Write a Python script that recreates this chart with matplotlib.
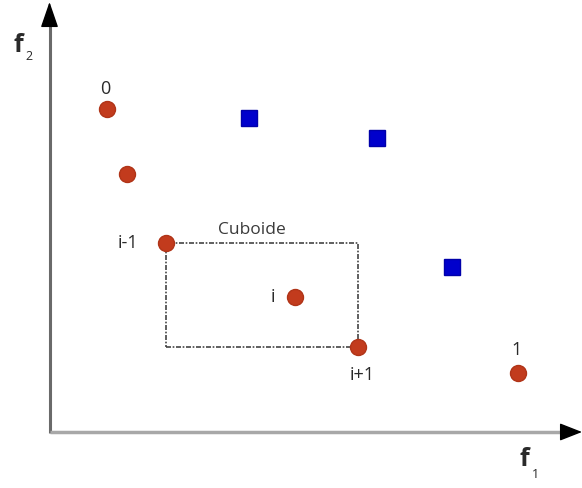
import matplotlib.pyplot as plt
from matplotlib.patches import Rectangle

# front points (f1, f2), plotted in picture units
f1_front = [107, 127, 166, 295, 358, 518]
f2_front = [379, 314, 245, 191, 141, 115]
front_labels = ["0", "", "i-1", "i", "i+1", "1"]

# dominated points
f1_dom = [249, 377, 452]
f2_dom = [370, 350, 221]

plt.rcParams["font.family"] = ["Open Sans", "DejaVu Sans"]

fig = plt.figure(figsize=(5.82, 4.88), dpi=100)
ax = fig.add_axes([0, 0, 1, 1])
ax.set_xlim(0, 582)
ax.set_ylim(0, 488)
ax.axis("off")

# axes with arrowheads
ox, oy = 49.5, 56
ax.plot([ox, ox], [oy - 1, 465], color="#6a6a6a", lw=2.2, solid_capstyle="butt")
ax.plot([ox, 565], [oy, oy], color="#a8a8a8", lw=2.5, solid_capstyle="butt")
ax.annotate("", xy=(ox, 486), xytext=(ox, 462),
            arrowprops=dict(arrowstyle="-|>,head_length=1.6,head_width=0.55",
                            color="black", lw=1, shrinkA=0, shrinkB=0))
ax.annotate("", xy=(582, oy), xytext=(562, oy),
            arrowprops=dict(arrowstyle="-|>,head_length=1.4,head_width=0.55",
                            color="black", lw=1, shrinkA=0, shrinkB=0))

# cuboid around i
i = 3
rect = Rectangle((f1_front[i - 1], f2_front[i + 1]),
                 f1_front[i + 1] - f1_front[i - 1],
                 f2_front[i - 1] - f2_front[i + 1],
                 fill=False, ls=(0, (3, 1, 1, 1)), lw=1.2, ec="#444444")
ax.add_patch(rect)
ax.text((f1_front[i - 1] + f1_front[i + 1]) / 2 - 10, f2_front[i - 1] + 5,
        "Cuboide", fontsize=12.5, color="#3a3a3a", ha="center", va="bottom")

ax.plot(f1_dom, f2_dom, "s", color="#0000cc", ms=11.5, mec="#0000aa", ls="none")
ax.plot(f1_front, f2_front, "o", color="#c23b1d", ms=11.5, mec="#b03418", ls="none")

offsets = {"0": (-2, 20), "i-1": (-38, 0), "i": (-22, 0),
           "i+1": (4, -28), "1": (-1, 23)}
for x, y, lab in zip(f1_front, f2_front, front_labels):
    if not lab:
        continue
    dx, dy = offsets[lab]
    ax.text(x + dx, y + dy, lab, fontsize=13, color="#2a2a2a",
            ha="center", va="center")

# axis names
ax.text(13, 443, "f", fontsize=18, fontweight="bold", color="#2a2a2a", va="center")
ax.text(25, 431, "2", fontsize=9, color="#2a2a2a", va="center")
ax.text(519, 29, "f", fontsize=18, fontweight="bold", color="#2a2a2a", va="center")
ax.text(532, 13, "1", fontsize=9, color="#2a2a2a", va="center")

fig.savefig("out.png", dpi=100)
